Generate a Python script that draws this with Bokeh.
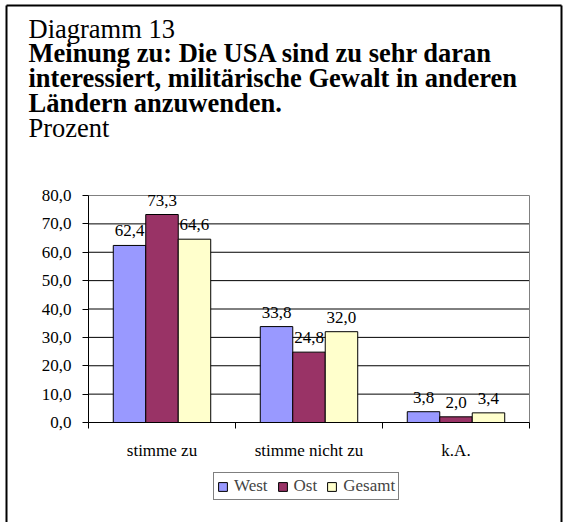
from bokeh.plotting import figure
from bokeh.models import (ColumnDataSource, Range1d, FixedTicker, Label, LabelSet,
                          Legend, LegendItem)
from bokeh.core.properties import value
from bokeh.embed import file_html
from bokeh.resources import INLINE

# ---- data ----
categories = ["stimme zu", "stimme nicht zu", "k.A."]
series = ["West", "Ost", "Gesamt"]
west = [62.4, 33.8, 3.8]
ost = [73.3, 24.8, 2.0]
gesamt = [64.6, 32.0, 3.4]
colors = ["#9999FF", "#993366", "#FFFFCC"]
y_ticks = [0, 10, 20, 30, 40, 50, 60, 70, 80]

title_lines = [
    ("Diagramm 13", "normal"),
    ("Meinung zu: Die USA sind zu sehr daran", "bold"),
    ("interessiert, militärische Gewalt in anderen", "bold"),
    ("Ländern anzuwenden.", "bold"),
    ("Prozent", "normal"),
]

FONT = "Liberation Serif"

# ---- layout (pixels inside the canvas) ----
W, H = 563, 522
PLOT_L, PLOT_R = 88, 529      # plot area left/right edge
PLOT_T, PLOT_B = 195, 422     # plot area top/bottom edge
ncat = len(categories)
ymax = y_ticks[-1]
px_x = (PLOT_R - PLOT_L) / ncat
px_y = (PLOT_B - PLOT_T) / ymax


def dx(px):
    return (px - PLOT_L) / px_x


def dy(py):
    return (PLOT_B - py) / px_y


x_range = Range1d(dx(0), dx(W))
y_range = Range1d(dy(H), dy(0))

p = figure(width=W, height=H, x_range=x_range, y_range=y_range,
           output_backend="svg", toolbar_location=None,
           min_border=0, min_border_left=0, min_border_right=0,
           min_border_top=0, min_border_bottom=0)
p.outline_line_color = None
p.background_fill_color = "white"
p.border_fill_color = "white"
p.xgrid.visible = False
p.ygrid.visible = False

# outer frame of the chart (left, top, right)
p.segment(x0=[dx(6), dx(6), dx(561)], x1=[dx(6), dx(561), dx(561)],
          y0=[dy(H + 5), dy(5), dy(5)], y1=[dy(5), dy(5), dy(H + 5)],
          line_color="black", line_width=2)

# grid lines + plot-area border
grid_y = y_ticks[1:-1]
p.segment(x0=[0] * len(grid_y), x1=[ncat] * len(grid_y), y0=grid_y, y1=grid_y,
          line_color="black", line_width=1)
p.segment(x0=[0], x1=[ncat], y0=[ymax], y1=[ymax], line_color="#808080", line_width=1)
p.segment(x0=[ncat], x1=[ncat], y0=[0], y1=[ymax], line_color="#808080", line_width=1)

bw = 0.221
offsets = [-bw, 0.0, bw]
values = [west, ost, gesamt]
items = []
for s, vals, off, col in zip(series, values, offsets, colors):
    xs = [i + 0.5 + off for i in range(ncat)]
    src = ColumnDataSource(dict(x=xs, top=vals,
                                lab=[f"{v:.1f}".replace(".", ",") for v in vals]))
    r = p.vbar(x="x", top="top", bottom=0, width=bw, source=src,
               fill_color=col, line_color="black", line_width=1)
    items.append(LegendItem(label=s, renderers=[r]))
    ls = LabelSet(x="x", y="top", text="lab", source=src, text_align="center",
                  text_baseline="alphabetic", y_offset=9,
                  text_font=value(FONT), text_font_size=value("17px"),
                  text_color="black")
    p.add_layout(ls)

# axes
xa = p.xaxis[0]
xa.fixed_location = 0
xa.bounds = (0, ncat)
xa.ticker = FixedTicker(ticks=[i + 0.5 for i in range(ncat)],
                        minor_ticks=list(range(ncat + 1)))
xa.major_label_overrides = {i + 0.5: c for i, c in enumerate(categories)}
xa.major_tick_line_color = None
xa.major_tick_out = 0
xa.major_tick_in = 0
xa.minor_tick_out = 6
xa.minor_tick_in = 0
xa.minor_tick_line_color = "black"
xa.axis_line_color = "black"
xa.major_label_standoff = 12
xa.major_label_text_font = FONT
xa.major_label_text_font_size = "17px"
xa.major_label_text_color = "black"

ya = p.yaxis[0]
ya.fixed_location = 0
ya.bounds = (0, ymax)
ya.ticker = FixedTicker(ticks=y_ticks)
ya.major_label_overrides = {t: f"{t:.1f}".replace(".", ",") for t in y_ticks}
ya.major_tick_out = 6
ya.major_tick_in = 0
ya.minor_tick_line_color = None
ya.axis_line_color = "black"
ya.major_tick_line_color = "black"
ya.major_label_standoff = 11
ya.major_label_text_font = FONT
ya.major_label_text_font_size = "17px"
ya.major_label_text_color = "black"

# titles
baselines = [28, 52, 77, 102, 127]   # px from canvas top
for (txt, style), b in zip(title_lines, baselines):
    p.add_layout(Label(x=28, y=H - b, x_units="screen", y_units="screen", text=txt,
                       text_font=FONT, text_font_size="26.5px", text_font_style=style,
                       text_baseline="alphabetic", text_color="black"))

legend = Legend(items=items, orientation="horizontal", location=(213, H - 500),
                border_line_color="black", border_line_width=1,
                background_fill_color="white", background_fill_alpha=1,
                label_text_font=FONT, label_text_font_size="17px",
                glyph_width=11, glyph_height=11, label_standoff=6, spacing=9,
                padding=3, margin=0)
p.add_layout(legend)

open("out.html", "w").write(file_html(p, INLINE))
